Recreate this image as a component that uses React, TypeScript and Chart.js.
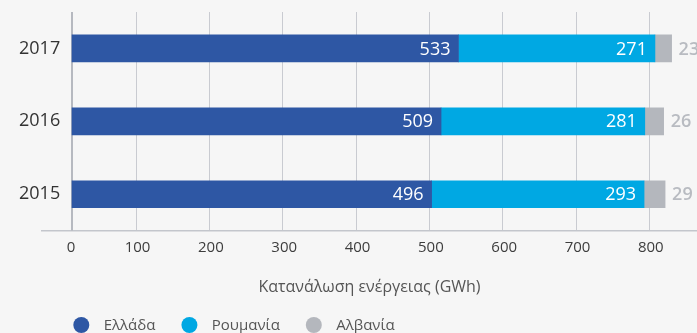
import { useEffect, useRef } from "react";
import { Chart, registerables } from "chart.js";

Chart.register(...registerables);

// Energy consumption (GWh) per country and year
const years = ["2015", "2016", "2017"];
const greece = [496, 509, 533];
const romania = [293, 281, 271];
const albania = [29, 26, 23];
const seriesNames = ["Ελλάδα", "Ρουμανία", "Αλβανία"];
const seriesColors = ["#2e57a4", "#00a8e3", "#b4b7bd"];
const gridTicks = [100, 200, 300, 400, 500, 600, 700, 800];
const zeroLabel = "0";
const axisTitle = "Κατανάλωση ενέργειας (GWh)";

const FONT = "'Open Sans', 'Noto Sans', sans-serif";
const TICK_PAD = 8.5;
const TICK_SIZE = 15;

const overlay = {
  id: "overlay",
  beforeDatasetsDraw(chart: any) {
    const { ctx, chartArea, scales } = chart;
    const x0 = scales.x.getPixelForValue(0);
    ctx.save();
    // zero axis line
    ctx.strokeStyle = "#b6b9c0";
    ctx.lineWidth = 2;
    ctx.beginPath();
    ctx.moveTo(x0, chartArea.top);
    ctx.lineTo(x0, chartArea.bottom);
    ctx.stroke();
    // zero tick label
    ctx.fillStyle = "#3d3d3d";
    ctx.font = `${TICK_SIZE}px ${FONT}`;
    ctx.textAlign = "center";
    ctx.textBaseline = "middle";
    ctx.fillText(zeroLabel, x0 - 1, scales.x2.top + TICK_PAD + (TICK_SIZE * 1.2) / 2);
    ctx.restore();
  },
  afterDatasetsDraw(chart: any) {
    const { ctx } = chart;
    ctx.save();
    ctx.textBaseline = "middle";
    chart.data.datasets.forEach((ds: any, di: number) => {
      const meta = chart.getDatasetMeta(di);
      meta.data.forEach((bar: any, i: number) => {
        const { x, y } = bar.getProps(["x", "y"], true);
        const text = String(ds.data[i]);
        if (di < 2) {
          ctx.font = `500 18px ${FONT}`;
          ctx.fillStyle = "#ffffff";
          ctx.textAlign = "right";
          ctx.fillText(text, x - 8, y + 1);
        } else {
          ctx.font = `600 18px ${FONT}`;
          ctx.fillStyle = "#b8bbc1";
          ctx.textAlign = "left";
          ctx.fillText(text, x + 7, y + 1);
        }
      });
    });
    ctx.restore();
  },
  afterDraw(chart: any) {
    const { ctx } = chart;
    ctx.save();
    ctx.font = `15px ${FONT}`;
    ctx.textBaseline = "middle";
    ctx.textAlign = "left";
    let lx = 81.3;
    const ly = 325;
    chart.data.datasets.forEach((ds: any) => {
      ctx.fillStyle = ds.backgroundColor;
      ctx.beginPath();
      ctx.arc(lx, ly, 8, 0, Math.PI * 2);
      ctx.fill();
      ctx.fillStyle = "#555555";
      ctx.fillText(ds.label, lx + 22.4, ly + 1);
      lx += 22.4 + ctx.measureText(ds.label).width + 34;
    });
    ctx.restore();
  },
};

export default function App() {
  const canvasRef = useRef<HTMLCanvasElement | null>(null);

  useEffect(() => {
    document.body.style.margin = "0";
    document.body.style.background = "#f6f6f6";
    const canvas = canvasRef.current;
    if (!canvas) return;
    const seriesData = [greece, romania, albania];
    const chart = new Chart(canvas, {
      type: "bar",
      data: {
        labels: years,
        datasets: seriesNames.map((name, k) => ({
          label: name,
          data: seriesData[k],
          backgroundColor: seriesColors[k],
          borderWidth: 0,
          barThickness: 27,
          xAxisID: "x",
          yAxisID: "y",
        })),
      },
      options: {
        indexAxis: "y",
        animation: false,
        responsive: false,
        devicePixelRatio: 1,
        layout: { padding: { top: 12, left: 0, right: 0, bottom: 0 } },
        plugins: {
          legend: { display: false },
          tooltip: { enabled: false },
        },
        scales: {
          x: {
            type: "linear",
            display: false,
            stacked: true,
            min: -41.4,
            max: 862,
          },
          x2: {
            type: "linear",
            position: "bottom",
            min: -28.2,
            max: 865,
            afterBuildTicks: (s: any) => {
              s.ticks = gridTicks.map((v) => ({ value: v }));
            },
            afterFit: (s: any) => {
              s.height = 102.3;
            },
            grid: { color: "#c9cbd1", lineWidth: 1, drawTicks: false },
            border: { display: true, color: "#c3c6cc", width: 1.5 },
            ticks: {
              padding: TICK_PAD,
              labelOffset: 1.5,
              color: "#3d3d3d",
              font: { family: FONT, size: TICK_SIZE },
            },
            title: {
              display: true,
              text: axisTitle,
              color: "#555555",
              font: { family: FONT, size: 16 },
              padding: { top: 0, bottom: 36 },
            },
          },
          y: {
            type: "category",
            stacked: true,
            reverse: true,
            grid: { display: false, drawTicks: false },
            border: { display: false },
            afterFit: (s: any) => {
              s.width = 42;
            },
            ticks: {
              mirror: true,
              crossAlign: "far",
              padding: -23,
              color: "#333333",
              font: { family: FONT, size: 18 },
            },
          },
        },
      } as any,
      plugins: [overlay],
    });
    return () => chart.destroy();
  }, []);

  return (
    <div style={{ width: 697, height: 333, background: "#f6f6f6" }}>
      <canvas ref={canvasRef} width={697} height={333} style={{ display: "block" }} />
    </div>
  );
}
